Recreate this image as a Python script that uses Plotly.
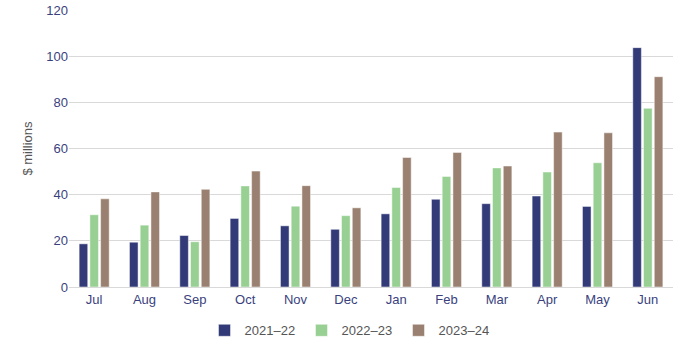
import plotly.graph_objects as go

months = ["Jul", "Aug", "Sep", "Oct", "Nov", "Dec", "Jan", "Feb", "Mar", "Apr", "May", "Jun"]
fy2122 = [18.7, 19.4, 22.3, 29.7, 26.5, 25.0, 31.7, 38.0, 36.1, 39.4, 34.9, 103.7]
fy2223 = [31.3, 26.8, 19.6, 43.8, 35.0, 30.9, 43.1, 47.9, 51.6, 49.8, 53.8, 77.4]
fy2324 = [38.2, 41.2, 42.3, 50.2, 43.9, 34.3, 56.1, 58.3, 52.4, 67.1, 66.8, 91.1]
series_names = ["2021–22", "2022–23", "2023–24"]
colors = ["#323A78", "#97D092", "#9A8070"]

fig = go.Figure()
for name, vals, col in zip(series_names, [fy2122, fy2223, fy2324], colors):
    fig.add_trace(go.Bar(x=months, y=vals, name=name,
                         marker=dict(color=col, line=dict(color="rgba(255,255,255,0.6)", width=0.8))))

fig.update_layout(
    width=700, height=347,
    margin=dict(l=69, r=27, t=10, b=60, autoexpand=False),
    paper_bgcolor="white", plot_bgcolor="white",
    barmode="group", bargap=0.36, bargroupgap=0.2,
    font=dict(family="Liberation Sans, Arial", size=13, color="#3A3F7E"),
    legend=dict(orientation="h", x=0.5, xanchor="center", xref="container",
                y=0.048, yref="container", yanchor="middle",
                font=dict(size=13, color="#555555"), itemwidth=30,
                entrywidth=52, traceorder="normal"),
    showlegend=True,
)
fig.update_xaxes(showgrid=False, showline=True, linecolor="#D9D9D9", linewidth=1,
                 tickfont=dict(color="#3A3F7E", size=13), ticks="")
fig.update_yaxes(range=[0, 120], dtick=20, showgrid=True, gridcolor="#D9D9D9", gridwidth=1,
                 zeroline=False, tickfont=dict(color="#3A3F7E", size=13), ticks="",
                 title=dict(text="$ millions", font=dict(color="#555555", size=13), standoff=10))

fig.write_html("out.html")
